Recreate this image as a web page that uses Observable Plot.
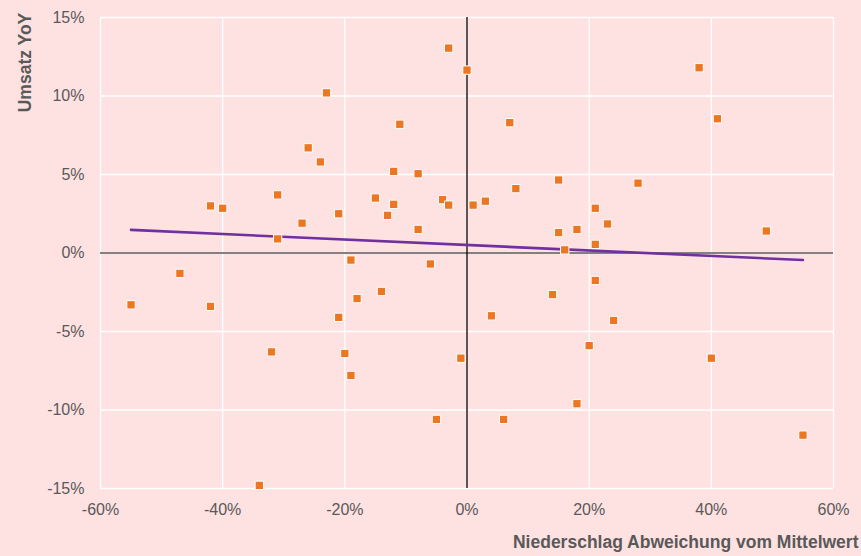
<!DOCTYPE html>
<html>
<head>
<meta charset="utf-8">
<script src="https://cdn.jsdelivr.net/npm/d3@7"></script>
<script src="https://cdn.jsdelivr.net/npm/@observablehq/plot@0.6"></script>
<style>
  html, body { margin: 0; padding: 0; background: #FEE1E1; }
  #chart svg { display: block; }
</style>
</head>
<body>
<div id="chart"></div>
<script>
// Niederschlag Abweichung vom Mittelwert (%)
const rain = [
  -55, -47, -42, -40, -42, -31, -31, -32, -34, -27,
  -26, -24, -23, -21, -21, -20, -19, -19, -18, -15,
  -14, -13, -12, -12, -11, -8, -8, -6, -4, -3,
  -3, -5, -1, 0, 1, 3, 7, 8, 4, 6,
  14, 15, 15, 16, 18, 18, 21, 21, 21, 23,
  24, 20, 28, 38, 41, 40, 49, 55
];
// Umsatz YoY (%)
const sales = [
  -3.3, -1.3, 3.0, 2.85, -3.4, 3.7, 0.9, -6.3, -14.8, 1.9,
  6.7, 5.8, 10.2, 2.5, -4.1, -6.4, -7.8, -0.45, -2.9, 3.5,
  -2.45, 2.4, 5.2, 3.1, 8.2, 5.05, 1.5, -0.7, 3.4, 3.05,
  13.05, -10.6, -6.7, 11.65, 3.05, 3.3, 8.3, 4.1, -4.0, -10.6,
  -2.65, 4.65, 1.3, 0.2, 1.5, -9.6, 2.85, 0.55, -1.75, 1.85,
  -4.3, -5.9, 4.45, 11.8, 8.55, -6.7, 1.4, -11.6
];
// Trendline endpoints
const trendX = [-55, 55];
const trendY = [1.47, -0.45];
const xTicks = [-60, -40, -20, 0, 20, 40, 60];
const yTicks = [-15, -10, -5, 0, 5, 10, 15];
const xTitle = "Niederschlag Abweichung vom Mittelwert";
const yTitle = "Umsatz YoY";

const data = rain.map((r, i) => ({rain: r, sales: sales[i]}));
const trend = trendX.map((x, i) => ({x, y: trendY[i]}));
const fmt = d => d + "%";
const labelColor = "#595959";

const chart = Plot.plot({
  width: 861,
  height: 556,
  marginLeft: 100,
  marginRight: 28,
  marginTop: 17,
  marginBottom: 68,
  style: {background: "#FEE1E1", fontFamily: "'Liberation Sans', Arial, sans-serif", fontSize: "16px", color: labelColor},
  x: {domain: [-60, 60], ticks: xTicks},
  y: {domain: [-15, 15], ticks: yTicks},
  marks: [
    Plot.gridX(xTicks, {stroke: "#ffffff", strokeOpacity: 1, strokeWidth: 1.3}),
    Plot.gridY(yTicks, {stroke: "#ffffff", strokeOpacity: 1, strokeWidth: 1.3}),
    Plot.ruleY([0], {stroke: "#595959", strokeWidth: 1.3}),
    Plot.ruleX([0], {stroke: "#000000", strokeWidth: 1.3}),
    Plot.axisX(xTicks, {tickSize: 0, tickPadding: 15, tickFormat: fmt, label: null, fill: labelColor, fontSize: 16}),
    Plot.axisY(yTicks, {tickSize: 0, tickPadding: 16, tickFormat: fmt, label: null, fill: labelColor, fontSize: 16}),
    Plot.line(trend, {x: "x", y: "y", stroke: "#7030A0", strokeWidth: 2.6}),
    Plot.dot(data, {x: "rain", y: "sales", symbol: "square", r: 4.7, fill: "#EB7723", stroke: "#ffffff", strokeWidth: 1}),
    Plot.text([xTitle], {frameAnchor: "bottom-right", dx: 25, dy: 59, text: d => d, textAnchor: "end", fontWeight: "bold", fontSize: 17.5, fill: labelColor}),
    Plot.text([yTitle], {frameAnchor: "top-left", dx: -82, dy: 45, text: d => d, rotate: -90, textAnchor: "middle", fontWeight: "bold", fontSize: 17.5, fill: labelColor})
  ]
});
document.getElementById("chart").appendChild(chart);
</script>
</body>
</html>
